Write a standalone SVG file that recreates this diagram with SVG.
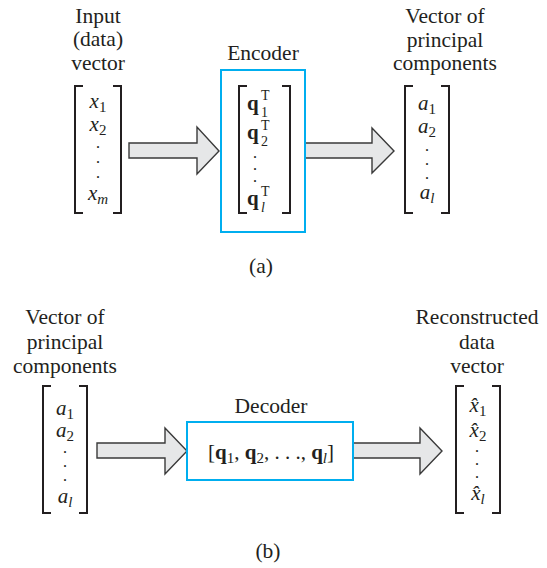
<svg xmlns="http://www.w3.org/2000/svg" width="547" height="568" viewBox="0 0 547 568">
<style>
  text { font-family: "Liberation Serif", "Times New Roman", serif; fill: #231f20; }
  .lbl { font-size: 21.5px; text-anchor: middle; }
  .ent { font-size: 21px; text-anchor: middle; font-style: italic; }
  .sub { font-size: 15px; font-style: normal; }
  .subi { font-size: 15px; font-style: italic; }
  .dot { font-size: 12px; font-weight: bold; text-anchor: middle; }
  .bold { font-size: 21px; font-weight: bold; }
  .sm { font-size: 14px; }
  .brk { fill: none; stroke: #231f20; stroke-width: 2; }
  .box { fill: none; stroke: #00aeef; stroke-width: 2; }
  .arr { fill: #e6e7e8; stroke: #3a3a3a; stroke-width: 1.4; stroke-linejoin: miter; }
</style>

<g id="connectors">
  <polygon class="arr" points="129,143 197,143 197,127 219,151 197,174 197,158 129,158"/>
  <polygon class="arr" points="305,143 372,143 372,128 394,151 372,173 372,158 305,158"/>
  <polygon class="arr" points="97,443 165,443 165,428 187,451 165,474 165,458 97,458"/>
  <polygon class="arr" points="353,443 420,443 420,428 442,451 420,474 420,458 353,458"/>
</g>

<g id="input-vector">
  <text class="lbl" x="98" y="23">Input</text>
  <text class="lbl" x="98" y="46">(data)</text>
  <text class="lbl" x="98" y="70">vector</text>
  <path class="brk" d="M83,86 H75 V213 H83"/>
  <path class="brk" d="M113,86 H121 V213 H113"/>
  <text class="ent" x="98" y="108">x<tspan class="sub" dy="4">1</tspan></text>
  <text class="ent" x="98" y="131">x<tspan class="sub" dy="4">2</tspan></text>
  <text class="dot" x="98" y="148">.</text>
  <text class="dot" x="98" y="163">.</text>
  <text class="dot" x="98" y="178">.</text>
  <text class="ent" x="98" y="200">x<tspan class="subi" dy="4">m</tspan></text>
</g>

<g id="encoder">
  <text class="lbl" x="263" y="60">Encoder</text>
  <rect class="box" x="221" y="70" width="84" height="162"/>
  <path class="brk" d="M247,86 H239 V213 H247"/>
  <path class="brk" d="M282,86 H290 V213 H282"/>
  <text class="bold" x="247" y="110">q</text>
  <text class="sm" x="261" y="100">T</text>
  <text class="sm" x="261" y="117">1</text>
  <text class="bold" x="247" y="139">q</text>
  <text class="sm" x="261" y="130">T</text>
  <text class="sm" x="261" y="146">2</text>
  <text class="dot" x="255" y="158">.</text>
  <text class="dot" x="255" y="170">.</text>
  <text class="dot" x="255" y="182">.</text>
  <text class="bold" x="247" y="205">q</text>
  <text class="sm" x="261" y="196">T</text>
  <text class="sm" x="261" y="212" font-style="italic">l</text>
</g>

<g id="pc-vector-a">
  <text class="lbl" x="445" y="23">Vector of</text>
  <text class="lbl" x="445" y="47">principal</text>
  <text class="lbl" x="445" y="70">components</text>
  <path class="brk" d="M413,86 H405 V213 H413"/>
  <path class="brk" d="M441,86 H449 V213 H441"/>
  <text class="ent" x="427" y="110">a<tspan class="sub" dy="4">1</tspan></text>
  <text class="ent" x="427" y="133">a<tspan class="sub" dy="4">2</tspan></text>
  <text class="dot" x="427" y="151">.</text>
  <text class="dot" x="427" y="165">.</text>
  <text class="dot" x="427" y="179">.</text>
  <text class="ent" x="427" y="199">a<tspan class="subi" dy="4">l</tspan></text>
</g>

<text class="lbl" x="261" y="273">(a)</text>

<g id="pc-vector-b">
  <text class="lbl" x="65" y="324">Vector of</text>
  <text class="lbl" x="65" y="349">principal</text>
  <text class="lbl" x="65" y="373">components</text>
  <path class="brk" d="M51,386 H43 V513 H51"/>
  <path class="brk" d="M79,386 H87 V513 H79"/>
  <text class="ent" x="65" y="415">a<tspan class="sub" dy="4">1</tspan></text>
  <text class="ent" x="65" y="437">a<tspan class="sub" dy="4">2</tspan></text>
  <text class="dot" x="65" y="453">.</text>
  <text class="dot" x="65" y="467">.</text>
  <text class="dot" x="65" y="481">.</text>
  <text class="ent" x="65" y="503">a<tspan class="subi" dy="4">l</tspan></text>
</g>

<g id="decoder">
  <text class="lbl" x="271" y="413">Decoder</text>
  <rect class="box" x="187" y="422" width="166" height="58"/>
  <text x="271" y="459" font-size="21" text-anchor="middle">[<tspan font-weight="bold">q</tspan><tspan font-size="15" dy="4">1</tspan><tspan dy="-4">, </tspan><tspan font-weight="bold">q</tspan><tspan font-size="15" dy="4">2</tspan><tspan dy="-4">, . . ., </tspan><tspan font-weight="bold">q</tspan><tspan font-size="15" font-style="italic" dy="4">l</tspan><tspan dy="-4">]</tspan></text>
</g>

<g id="reconstructed-vector">
  <text class="lbl" x="477" y="324">Reconstructed</text>
  <text class="lbl" x="477" y="349">data</text>
  <text class="lbl" x="477" y="373">vector</text>
  <path class="brk" d="M464,386 H456 V513 H464"/>
  <path class="brk" d="M492,386 H500 V513 H492"/>
  <text class="ent" x="478" y="412">x̂<tspan class="sub" dy="4">1</tspan></text>
  <text class="ent" x="478" y="437">x̂<tspan class="sub" dy="4">2</tspan></text>
  <text class="dot" x="477" y="452">.</text>
  <text class="dot" x="477" y="465">.</text>
  <text class="dot" x="477" y="478">.</text>
  <text class="ent" x="478" y="500">x̂<tspan class="subi" dy="4">l</tspan></text>
</g>

<text class="lbl" x="268" y="558">(b)</text>
</svg>
